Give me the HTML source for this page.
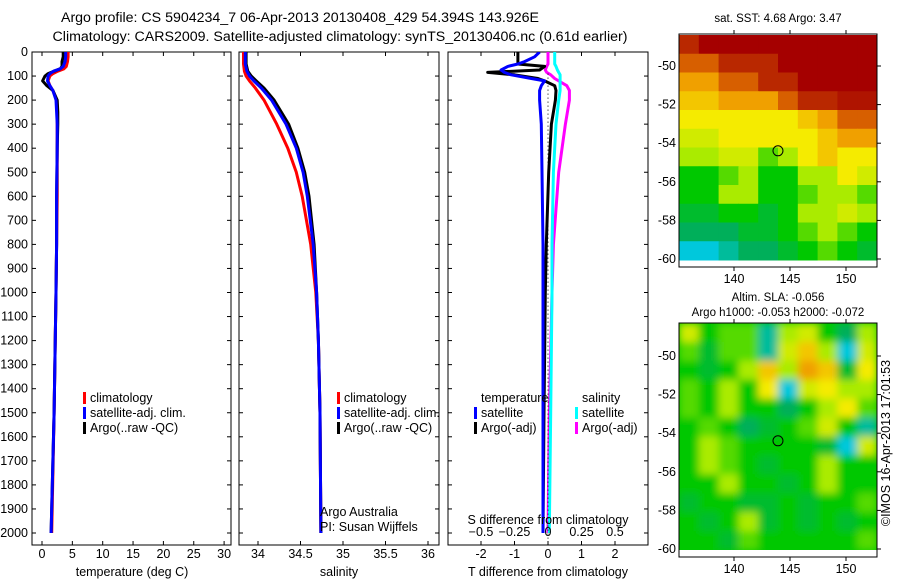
<!DOCTYPE html>
<html><head><meta charset="utf-8"><style>
body{margin:0;background:#fff}
svg{display:block;font-family:"Liberation Sans",sans-serif;font-size:12.5px}
</style></head><body>
<svg id="s" width="900" height="580" viewBox="0 0 900 580">
<defs>
<clipPath id="c1"><rect x="32" y="52" width="199" height="493"/></clipPath>
<clipPath id="c2"><rect x="239" y="52" width="200" height="493"/></clipPath>
<clipPath id="c3"><rect x="448" y="52" width="200" height="493"/></clipPath>
<clipPath id="cm2"><rect x="679" y="323" width="198" height="227"/></clipPath>
<filter id="bl" x="-10%" y="-10%" width="120%" height="120%"><feGaussianBlur stdDeviation="4"/></filter>
</defs>
<text x="300" y="22" text-anchor="middle" font-size="14.2">Argo profile: CS 5904234_7 06-Apr-2013 20130408_429 54.394S 143.926E</text>
<text x="340" y="41" text-anchor="middle" font-size="14.2">Climatology: CARS2009. Satellite-adjusted climatology: synTS_20130406.nc (0.61d earlier)</text>
<g id="g"></g>
</svg>
<script>
// ---- data ----
const tDepth=[0,20,40,60,70,80,90,100,120,140,160,200,250,300,400,600,800,1000,1500,2000];
const tClim=[4.3,4.3,4.2,4.0,3.6,2.6,1.8,1.3,1.0,1.3,1.8,2.4,2.5,2.5,2.5,2.5,2.4,2.3,2.0,1.6];
const tSat=[3.9,3.9,3.8,3.5,3.0,1.9,1.3,1.0,0.9,1.3,1.8,2.3,2.4,2.5,2.5,2.4,2.4,2.3,2.0,1.5];
const tArgo=[3.5,3.5,3.3,3.3,3.0,2.0,1.0,0.5,0.1,0.8,1.8,2.5,2.6,2.6,2.5,2.4,2.4,2.3,2.0,1.5];
const tTicks=[0,5,10,15,20,25,30];
const sDepth=[0,50,80,100,120,150,200,300,400,500,600,800,1000,1200,1500,2000];
const sClim=[33.83,33.83,33.84,33.86,33.9,33.97,34.07,34.22,34.35,34.45,34.52,34.62,34.68,34.71,34.73,34.74];
const sSat=[33.85,33.85,33.87,33.9,33.95,34.04,34.16,34.33,34.45,34.53,34.58,34.65,34.69,34.71,34.73,34.74];
const sArgo=[33.86,33.86,33.88,33.92,33.98,34.07,34.19,34.36,34.47,34.55,34.6,34.66,34.69,34.71,34.73,34.74];
const sTicks=[34,34.5,35,35.5,36];
const dDepth=[0,20,40,50,60,75,85,95,110,120,140,160,200,300,500,800,1000,1500,2000];
const dTSat=[-0.25,-0.4,-0.7,-0.9,-1.2,-1.4,-1.3,-1.1,-0.5,-0.1,-0.2,-0.25,-0.25,-0.2,-0.18,-0.15,-0.15,-0.15,-0.15];
const dTArgo=[-0.9,-0.9,-0.9,-0.9,-0.1,-0.25,-1.8,-1.0,-0.3,-0.1,0.2,0.24,0.22,0.1,0.02,-0.05,-0.08,-0.12,-0.15];
const dSSat=[0.05,0.05,0.05,0.05,0.06,0.07,0.08,0.09,0.09,0.09,0.09,0.09,0.08,0.06,0.04,0.03,0.03,0.02,0.01];
const dSArgo=[0,0,0,0,-0.01,-0.02,-0.01,0.02,0.05,0.08,0.14,0.16,0.16,0.13,0.08,0.04,0.03,0.01,0.0];
const dTTicks=[-2,-1,0,1,2];
const dSTicks=[-0.5,-0.25,0,0.25,0.5];
const depthTicks=[0,100,200,300,400,500,600,700,800,900,1000,1100,1200,1300,1400,1500,1600,1700,1800,1900,2000];
const sstGrid=[
[9,10,10,10,10,10,10,10,10,10],
[8,8,9,9,9,10,10,10,10,10],
[7,7,8,8,9,9,10,10,10,10],
[6.5,6.5,7,7,7,8,9,9,9.5,9.5],
[6,6,6,6,6,6,6.5,7,8,8],
[5.5,5.5,6,6,6,6,6,6.5,7,7],
[5,5,5.5,5.5,4.5,5,6,6.5,6,6],
[4,4,4.5,5,4,4,5,5,6,5.5],
[4,4,5,5,4,4,4.5,5,5,4.5],
[3.5,3.5,4,4,3.5,4,5,5,5.5,5],
[3,3,3,3.5,3.5,4,4.5,5,4.5,4],
[2,2,2.5,3,3,3.5,4,4.5,4,3.5]];
const slaGrid=[
[5.5,4,4.5,4.5,2.5,5,5.5,4,3,5],
[4.5,3.5,4.5,4.5,2.5,5.5,6.5,5,2,5.5],
[4,3.5,4,5,6.5,5,7,6.5,3.5,6],
[4.5,4,5,4,6,2,5.5,6,5,5],
[4.5,4,5,4,4,3,4,5,6,4.5],
[4,4.5,4,3,3.5,4,4.5,5.5,4,2.5],
[4,5,4.5,4,4,4,4,3.5,2,5.5],
[4,5,4.5,4,3.5,4,4,5,4,4],
[4,4,5,4,4,3.5,4,5,4,4],
[3.5,4,4,3.5,3.5,4,3.5,4,4,4.5],
[4,3.5,4,5,3.5,4,3.5,4,3.5,4],
[4,4,3.5,4.5,4,4,4,4,4,4.5]];
const latTicks=[-50,-52,-54,-56,-58,-60];
const lonTicks=[140,145,150];
const argoLon=143.926, argoLat=-54.394;

const NS='http://www.w3.org/2000/svg';
const G=document.getElementById('g');
function mk(tag,at,parent){const e=document.createElementNS(NS,tag);for(const k in at)e.setAttribute(k,at[k]);(parent||G).appendChild(e);return e;}
function txt(x,y,s,anchor,parent){const e=mk('text',{x:x,y:y,'text-anchor':anchor||'start'},parent);e.textContent=s;return e;}
const yD=d=>52+0.2405*d;

function panel(x0,w,name,xf,series,ticks,clip,ylabels){
  const box=mk('rect',{x:x0,y:52,width:w,height:493,fill:'none',stroke:'#000'});
  
  
  depthTicks.forEach(d=>{
    mk('line',{x1:x0,x2:x0+4,y1:yD(d),y2:yD(d),stroke:'#000'});
    mk('line',{x1:x0+w-4,x2:x0+w,y1:yD(d),y2:yD(d),stroke:'#000'});
    if(ylabels){const t=txt(28,yD(d)+4,String(d),'end');
      
      }
  });
  ticks.forEach(v=>{const x=xf(v);
    mk('line',{x1:x,x2:x,y1:52,y2:56,stroke:'#000'});
    mk('line',{x1:x,x2:x,y1:541,y2:545,stroke:'#000'});
    const t=txt(x,558,String(v),'middle');
    
    });
  const g=mk('g',{'clip-path':'url(#'+clip+')'});
  series.forEach(s=>{
    const pts=s.d.map((d,i)=>xf(s.v[i]).toFixed(1)+','+yD(d).toFixed(1)).join(' ');
    const p=mk('polyline',{points:pts,fill:'none',stroke:s.c,'stroke-width':s.w||3,'stroke-linejoin':'round'},g);
    
    
  });
}
const xT=v=>42+6.07*v, xS=v=>258+85*(v-34), xDT=v=>548+33.5*v, xDS=v=>548+134*v;
panel(32,199,'temperature-panel',xT,[
 {d:tDepth,v:tClim,c:'#f00',n:'temp-climatology-line'},
 {d:tDepth,v:tArgo,c:'#000',n:'temp-argo-line'},
 {d:tDepth,v:tSat,c:'#00f',n:'temp-satellite-line'}],tTicks,'c1',true);
panel(239,200,'salinity-panel',xS,[
 {d:sDepth,v:sClim,c:'#f00',n:'sal-climatology-line'},
 {d:sDepth,v:sArgo,c:'#000',n:'sal-argo-line'},
 {d:sDepth,v:sSat,c:'#00f',n:'sal-satellite-line'}],sTicks,'c2',false);
panel(448,200,'difference-panel',xDT,[
 {d:dDepth,v:dSArgo.map(v=>v*4),c:'#f0f',n:'sdiff-argo-line'},
 {d:dDepth,v:dSSat.map(v=>v*4),c:'#0ff',n:'sdiff-satellite-line'},
 {d:dDepth,v:dTArgo,c:'#000',n:'tdiff-argo-line'},
 {d:dDepth,v:dTSat,c:'#00f',n:'tdiff-satellite-line'}],dTTicks,'c3',false);
mk('line',{x1:548,x2:548,y1:yD(90),y2:545,stroke:'#000','stroke-dasharray':'1,3'});
dSTicks.forEach(v=>{const t=txt(xDS(v),536,String(v).replace('-','\u2212'),'middle');
 
 });
[[132,'temperature (deg C)','temperature-axis-title'],[339,'salinity','salinity-axis-title'],[548,'T difference from climatology','tdiff-axis-title']].forEach(a=>{
 const t=txt(a[0],576,a[1],'middle');});
{const t=txt(548,524,'S difference from climatology','middle');}

function legend(x,y,items){items.forEach((it,i)=>{
  if(it.c) mk('rect',{x:x,y:y+i*15-10,width:3,height:12,fill:it.c});
  const t=txt(x+7,y+i*15,it.t);
  
  });}
const L=[{c:'#f00',t:'climatology'},{c:'#00f',t:'satellite-adj. clim.'},{c:'#000',t:'Argo(..raw -QC)'}];
legend(83,402,L);legend(337,402,L);
legend(474,402,[{t:'temperature'},{c:'#00f',t:'satellite'},{c:'#000',t:'Argo(-adj)'}]);
legend(575,402,[{t:'salinity'},{c:'#0ff',t:'satellite'},{c:'#f0f',t:'Argo(-adj)'}]);
{const t=txt(320,516,'Argo Australia');
 const u=txt(320,531,'PI: Susan Wijffels');}

// ---- maps ----
const stops=[[0,[0,0,190]],[1,[0,110,255]],[2,[0,200,220]],[3,[0,175,90]],[4,[0,200,0]],[5,[170,235,0]],[6,[245,235,0]],[7,[240,160,0]],[8,[215,95,0]],[9,[185,40,0]],[10,[165,0,0]]];
function col(v){for(let i=0;i<stops.length-1;i++){const a=stops[i],b=stops[i+1];if(v<=b[0]){const f=(v-a[0])/(b[0]-a[0]);
 return 'rgb('+a[1].map((c,k)=>Math.round(c+(b[1][k]-c)*f)).join(',')+')';}}return 'rgb(165,0,0)';}
function map(top,bot,latY50,latY60,grid,name,imgTop,imgBot,blur){
  const x0=679,x1=877;const lonX=l=>734+(l-140)*11.2;const latY=l=>latY50+(-50-l)*(latY60-latY50)/10;
  const g=mk('g',blur?{'clip-path':'url(#cm2)'}:{});
  if(blur)mk('rect',{x:x0,y:imgTop,width:x1-x0,height:imgBot-imgTop,fill:col(4)},g);
  const g2=blur?mk('g',{filter:'url(#bl)'},g):g;
  const rows=grid.length,cols=grid[0].length,ch=(imgBot-imgTop)/rows,cw=(x1-x0)/cols;
  grid.forEach((r,i)=>r.forEach((v,j)=>{
    const c=mk('rect',{x:x0+j*cw,y:imgTop+i*ch,width:cw+0.5,height:ch+0.5,fill:col(v)},g2);
    
    }));
  const b=mk('rect',{x:x0,y:top,width:x1-x0,height:bot-top,fill:'none',stroke:'#000'});
  
  latTicks.forEach(l=>{const y=latY(l);mk('line',{x1:x1,x2:x1+4,y1:y,y2:y,stroke:'#000'});
    const t=txt(676,y+4,String(l),'end');});
  lonTicks.forEach(l=>{const x=lonX(l);mk('line',{x1:x,x2:x,y1:top-4,y2:top,stroke:'#000'});mk('line',{x1:x,x2:x,y1:bot,y2:bot+4,stroke:'#000'});
    const t=txt(x,bot+16,String(l),'middle');});
  const m=mk('circle',{cx:lonX(argoLon),cy:latY(argoLat),r:5,fill:'none',stroke:'#000'});
  
}
map(34,267,66,259,sstGrid,'sst-map',35,260,false);
map(323,557,356,549,slaGrid,'sla-map',323,550,true);
{const t=txt(778,22,'sat. SST: 4.68 Argo: 3.47','middle');t.setAttribute('font-size','11.5');
 const u=txt(778,301,'Altim. SLA: -0.056','middle');u.setAttribute('font-size','11.5');
 const v=txt(778,316,'Argo h1000: -0.053 h2000: -0.072','middle');v.setAttribute('font-size','11.5');
 const w=txt(0,0,'\u00a9IMOS 16-Apr-2013 17:01:53','middle');w.setAttribute('transform','translate(890,443) rotate(-90)');
 }
</script>
</body></html>
